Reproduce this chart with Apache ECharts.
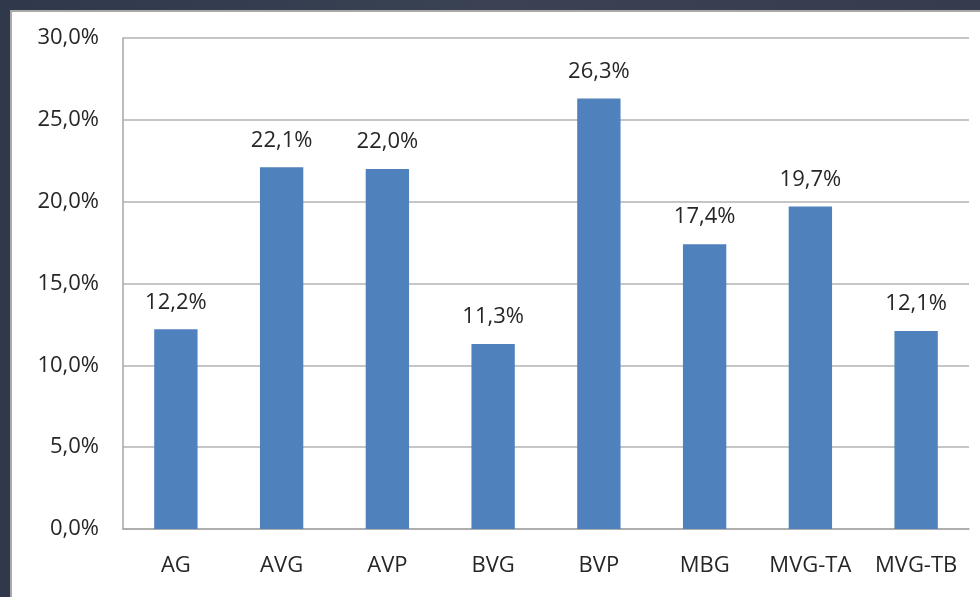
<!DOCTYPE html>
<html>
<head>
<meta charset="utf-8">
<script src="https://cdn.jsdelivr.net/npm/echarts@6/dist/echarts.min.js"></script>
<style>
  html, body {
    margin: 0;
    padding: 0;
    width: 980px;
    height: 597px;
    overflow: hidden;
    background: linear-gradient(90deg, #2f394b 0%, #3a4254 50%, #343c4e 100%);
  }
  #panel {
    position: absolute;
    left: 10px;
    top: 10px;
    width: 970px;
    height: 587px;
    background: #fff;
    border-left: 2px solid #a9a9a9;
    border-top: 2px solid #a9a9a9;
    box-sizing: border-box;
  }
  #echart {
    width: 100%;
    height: 100%;
  }
</style>
</head>
<body>
<div id="panel"><div id="echart"></div></div>
<script>
// categories and values (percent)
var categories = ["AG", "AVG", "AVP", "BVG", "BVP", "MBG", "MVG-TA", "MVG-TB"];
var values = [12.2, 22.1, 22.0, 11.3, 26.3, 17.4, 19.7, 12.1];
var yTicks = [0, 5, 10, 15, 20, 25, 30];

function pct(v) {
  return v.toFixed(1).replace(".", ",") + "%";
}

var chart = echarts.init(document.getElementById("echart"));
chart.setOption({
  animation: false,
  textStyle: { fontFamily: "Open Sans", color: "#262626" },
  grid: {
    left: 111,
    top: 26,
    right: 11,
    bottom: 68
  },
  xAxis: {
    type: "category",
    data: categories,
    axisLine: { lineStyle: { color: "#a6a6a6", width: 1.5 } },
    axisTick: { show: false },
    axisLabel: { fontSize: 22, margin: 26, color: "#262626", interval: 0, hideOverlap: false }
  },
  yAxis: {
    type: "value",
    min: yTicks[0],
    max: yTicks[yTicks.length - 1],
    interval: 5,
    axisLine: { show: true, lineStyle: { color: "#a6a6a6", width: 1.5 } },
    axisTick: { show: false },
    splitLine: { lineStyle: { color: "#b3b3b3", width: 1.5 } },
    axisLabel: {
      fontSize: 22,
      margin: 24,
      color: "#262626",
      formatter: function (v) { return pct(v); }
    }
  },
  series: [
    {
      type: "bar",
      data: values,
      barCategoryGap: "59%",
      itemStyle: { color: "#4f81bd" },
      label: {
        show: true,
        position: "top",
        distance: 16,
        fontSize: 22,
        color: "#262626",
        formatter: function (p) { return pct(p.value); }
      }
    }
  ]
});
</script>
</body>
</html>
